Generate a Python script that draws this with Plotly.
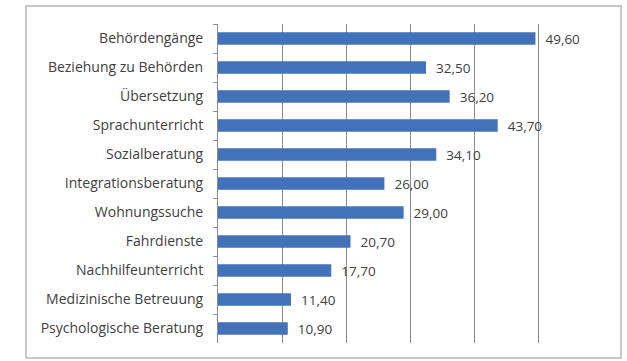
import plotly.graph_objects as go

categories = ["Behördengänge", "Beziehung zu Behörden", "Übersetzung", "Sprachunterricht",
              "Sozialberatung", "Integrationsberatung", "Wohnungssuche", "Fahrdienste",
              "Nachhilfeunterricht", "Medizinische Betreuung", "Psychologische Beratung"]
values = [49.6, 32.5, 36.2, 43.7, 34.1, 26.0, 29.0, 20.7, 17.7, 11.4, 10.9]
x_ticks = [0, 10, 20, 30, 40, 50, 60]

fig = go.Figure(go.Bar(
    x=values, y=categories, orientation="h",
    marker=dict(color="#4272B8", line=dict(width=0)),
    texttemplate="  %{x:.2f}", textposition="outside", constraintext="none",
    textfont=dict(family="Open Sans", size=13.5, color="#404040"),
    cliponaxis=False,
))

fig.update_layout(
    width=627, height=361,
    margin=dict(l=218, r=25, t=24, b=18),
    paper_bgcolor="white", plot_bgcolor="white",
    separators=",.",
    bargap=0.57,
    showlegend=False,
    font=dict(family="Open Sans", size=13.5, color="#404040"),
    xaxis=dict(range=[0, 60], tickvals=x_ticks, showticklabels=False,
               showgrid=True, gridcolor="#8C8C8C", gridwidth=1,
               zeroline=False, showline=False, fixedrange=True),
    yaxis=dict(autorange="reversed", showline=True, linecolor="#8C8C8C", linewidth=1,
               ticks="outside", tickson="boundaries", ticklen=4, tickcolor="#8C8C8C",
               ticklabelstandoff=11, tickfont=dict(family="Open Sans", size=14, color="#404040"),
               showgrid=False),
    shapes=[dict(type="rect", xref="paper", yref="paper", layer="below",
                 x0=-192/384, x1=1 + 19/384, y0=-15/319, y1=1 + 18/319,
                 line=dict(color="#C8C8C8", width=2), fillcolor="rgba(0,0,0,0)")],
)

fig.write_html("out.html")
